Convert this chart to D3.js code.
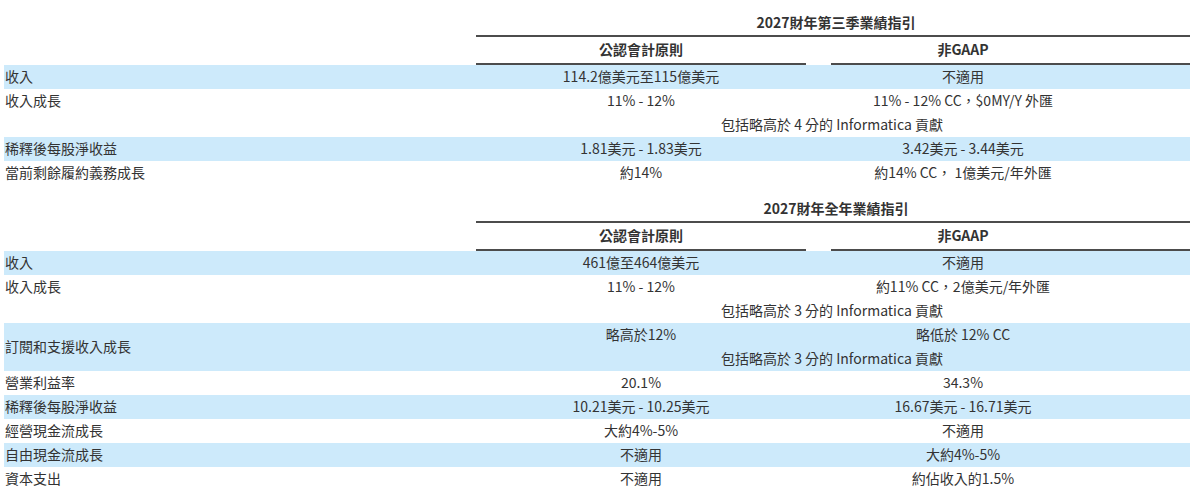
<!DOCTYPE html><html><head><meta charset="utf-8"><script src="https://cdn.jsdelivr.net/npm/d3@7"></script>
<style>body{margin:0;background:#fff}text{font-family:"Noto Sans CJK TC","Noto Sans",sans-serif;font-size:14px;fill:#333}</style></head><body>
<svg id="c" width="1190" height="491"></svg>
<script>
const titles=["2027財年第三季業績指引","2027財年全年業績指引"];
const colHeaders=["公認會計原則","非GAAP"];
// each row: label, gaap, nongaap, note (spanning), shaded
const q3Labels=["收入","收入成長","稀釋後每股淨收益","當前剩餘履約義務成長"];
const q3Gaap=["114.2億美元至115億美元","11% - 12%","1.81美元 - 1.83美元","約14%"];
const q3NonGaap=["不適用","11% - 12% CC，$0MY/Y 外匯","3.42美元 - 3.44美元","約14% CC， 1億美元/年外匯"];
const q3Notes=["","包括略高於 4 分的 Informatica 貢獻","",""];
const fyLabels=["收入","收入成長","訂閱和支援收入成長","營業利益率","稀釋後每股淨收益","經營現金流成長","自由現金流成長","資本支出"];
const fyGaap=["461億至464億美元","11% - 12%","略高於12%","20.1%","10.21美元 - 10.25美元","大約4%-5%","不適用","不適用"];
const fyNonGaap=["不適用","約11% CC，2億美元/年外匯","略低於 12% CC","34.3%","16.67美元 - 16.71美元","不適用","大約4%-5%","約佔收入的1.5%"];
const fyNotes=["","包括略高於 3 分的 Informatica 貢獻","包括略高於 3 分的 Informatica 貢獻","","","","",""];

const svg=d3.select("#c");
const x=d3.scaleLinear().domain([0,1190]).range([0,1190]);
const rowH=24, blue="#cdeafb";
function section(top,title,labels,gaap,ng,notes,shadeParity){
  svg.append("text").attr("x",x(836)).attr("y",top+14).attr("text-anchor","middle").style("font-weight","bold").text(title);
  svg.append("line").attr("x1",x(476)).attr("x2",x(1190)).attr("y1",top+22).attr("y2",top+22).attr("stroke","#111").attr("stroke-width",1.3);
  svg.append("text").attr("x",x(641)).attr("y",top+41).attr("text-anchor","middle").style("font-weight","bold").text(colHeaders[0]);
  svg.append("text").attr("x",x(963)).attr("y",top+41).attr("text-anchor","middle").style("font-weight","bold").text(colHeaders[1]);
  svg.append("line").attr("x1",x(476)).attr("x2",x(806)).attr("y1",top+50).attr("y2",top+50).attr("stroke","#111").attr("stroke-width",1.3);
  svg.append("line").attr("x1",x(831)).attr("x2",x(1190)).attr("y1",top+50).attr("y2",top+50).attr("stroke","#111").attr("stroke-width",1.3);
  let y=top+51;
  labels.forEach((l,i)=>{
    const h=notes[i]?rowH*2:rowH;
    if(i%2===0) svg.append("rect").attr("x",x(4)).attr("y",y).attr("width",1186).attr("height",h).attr("fill",blue);
    const labY=(notes[i]&&i%2===0)?y+h/2+5:y+17;
    svg.append("text").attr("x",x(5)).attr("y",labY).text(l);
    svg.append("text").attr("x",x(641)).attr("y",y+17).attr("text-anchor","middle").text(gaap[i]);
    svg.append("text").attr("x",x(1005)).attr("y",y+17).attr("text-anchor","middle").text(ng[i]).attr("x",x(963));
    if(notes[i]) svg.append("text").attr("x",x(832)).attr("y",y+41).attr("text-anchor","middle").text(notes[i]);
    y+=h;
  });
}
section(14,titles[0],q3Labels,q3Gaap,q3NonGaap,q3Notes);
section(200,titles[1],fyLabels,fyGaap,fyNonGaap,fyNotes);
</script></body></html>
